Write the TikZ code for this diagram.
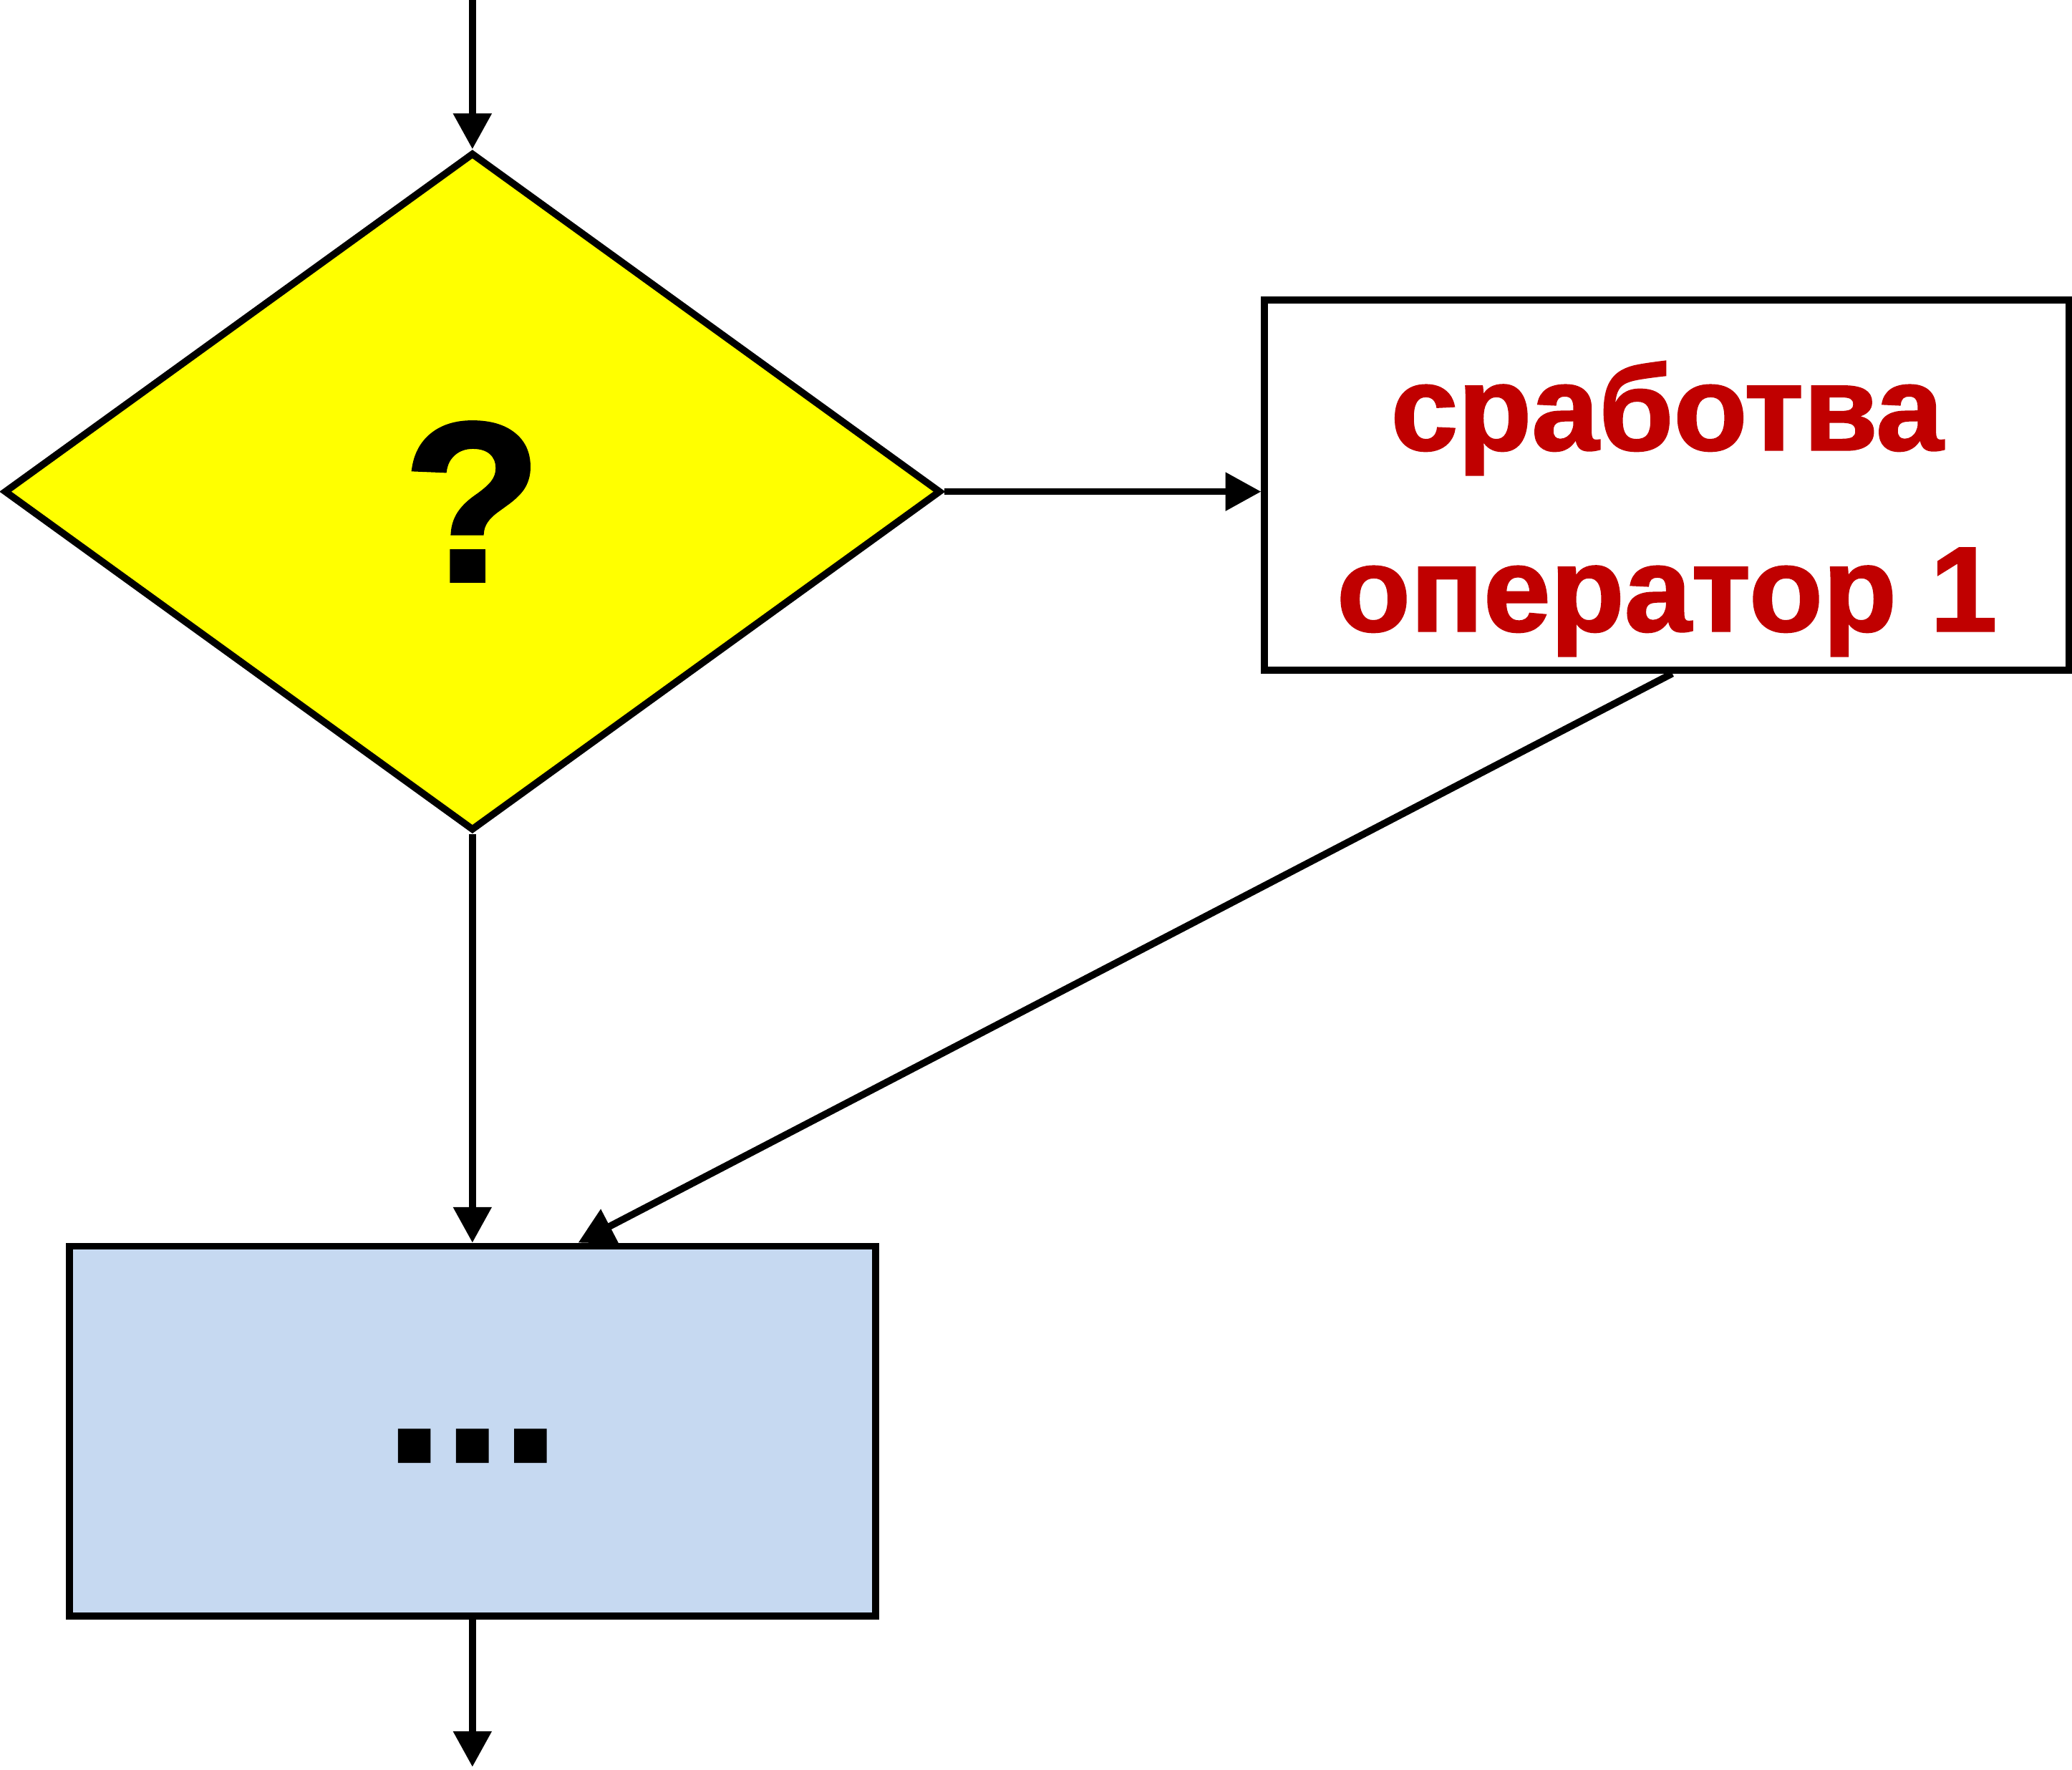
\documentclass[tikz,border=0pt]{standalone}
\usepackage{fontspec}
\setmainfont{Liberation Sans}
\newfontfamily\heavy[FakeBold=1.5]{Liberation Sans}
\usetikzlibrary{shapes.geometric,arrows.meta}
\definecolor{krasen}{HTML}{C00000}
\definecolor{sin}{HTML}{C6D9F1}
\definecolor{zhalt}{RGB}{255,255,0}

\begin{document}
\begin{tikzpicture}[
    uslovie/.style={diamond, draw, fill=zhalt, line width=1.5pt,
        minimum width=7.09cm, minimum height=5.13cm, inner sep=0pt},
    bloc/.style={draw, line width=1.5pt,
        minimum width=6.09cm, minimum height=2.8cm, inner sep=0pt},
    simbol/.style={inner sep=0pt,
        font=\heavy\bfseries\fontsize{49}{49}\selectfont},
    nadpis/.style={text=krasen, align=center, inner sep=0pt,
        font=\heavy\bfseries\fontsize{26}{39}\selectfont},
    strelka/.style={line width=1.5pt,
        -{Triangle[width=2.8mm,length=2.7mm]}}
    ]
    \useasboundingbox (0,0) rectangle (15.68,-13.39);
    \node[uslovie] (dia) at (3.575,-3.72) {};
    \node[simbol] (vapros) at ([yshift=-0.75mm]dia.center) {?};
    \node[bloc, fill=white] (op) at (12.615,-3.67) {};
    \node[nadpis] (optxt) at ([yshift=-1.8mm]op.center) {сработва\\ оператор 1};
    \node[bloc, fill=sin, minimum width=6.10cm] (sled) at (3.575,-10.83) {};
    \node[simbol, font=\heavy\bfseries\fontsize{45}{45}\selectfont] (tochki) at ([yshift=-1.1mm]sled.center) {...};
    \coordinate (vhod) at (3.575,0);
    \coordinate (izhod) at (3.575,-13.37);
    \coordinate (sliv) at ([xshift=8mm]sled.north);
    \draw[strelka] (vhod) -- (dia.north);
    \draw[strelka] (dia.east) -- (dia.east -| op.west);
    \draw[strelka] (dia.south) -- (sled.north);
    \draw[strelka] ([xshift=0.4mm]op.south) -- (sliv);
    \draw[strelka] (sled.south) -- (izhod);
\end{tikzpicture}
\end{document}
